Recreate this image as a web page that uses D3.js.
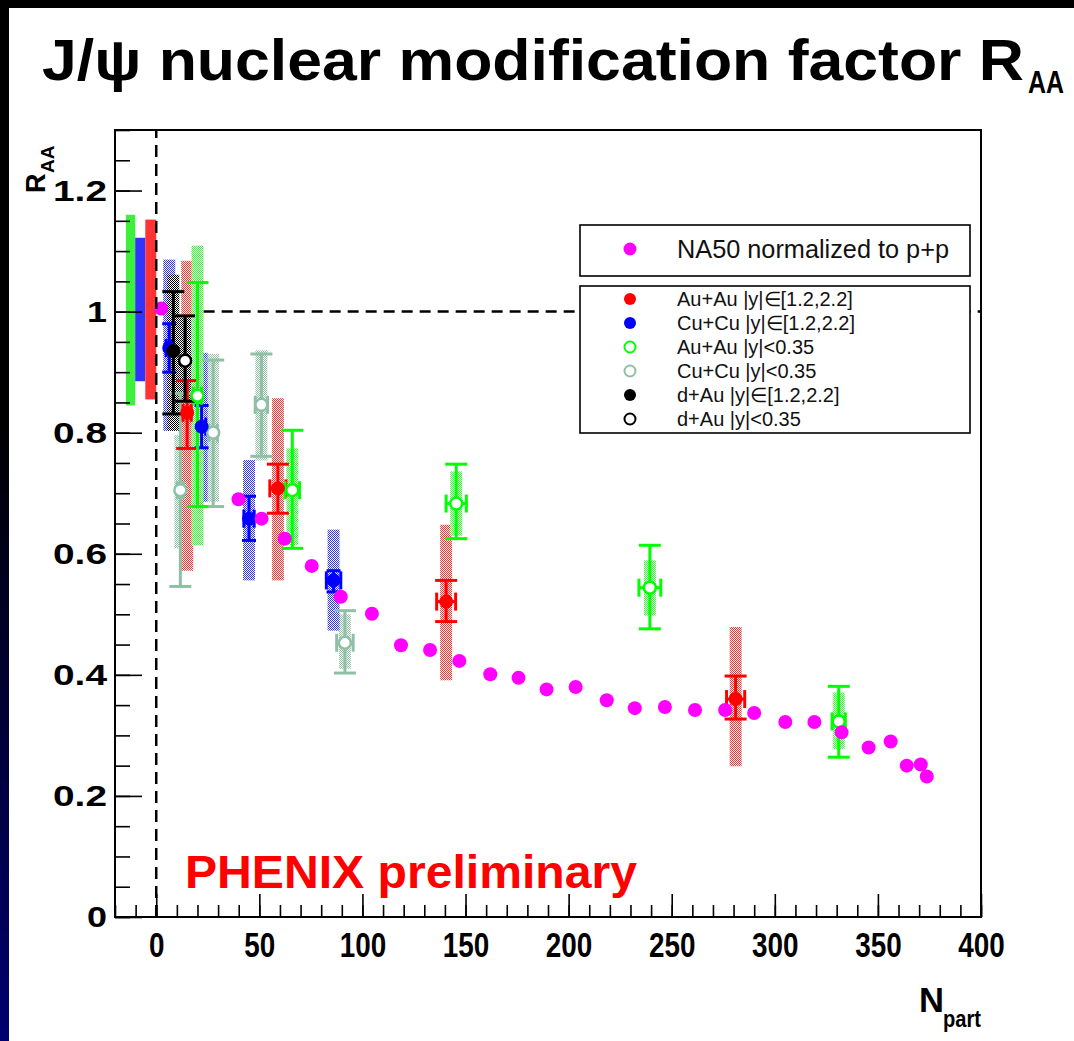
<!DOCTYPE html>
<html><head><meta charset="utf-8">
<script src="https://cdn.jsdelivr.net/npm/d3@7"></script>
<style>
html,body{margin:0;padding:0;background:#000;}
svg{display:block;}
text{font-family:"Liberation Sans",Arial,Helvetica,sans-serif;}
</style></head><body>
<svg id="c" width="1074" height="1041"></svg>
<script>
// ---------------- data ----------------
const xTickValues = [0, 50, 100, 150, 200, 250, 300, 350, 400];
const xTickLabels = ["0", "50", "100", "150", "200", "250", "300", "350", "400"];
const yTickValues = [0, 0.2, 0.4, 0.6, 0.8, 1.0, 1.2];
const yTickLabels = ["0", "0.2", "0.4", "0.6", "0.8", "1", "1.2"];

// NA50 normalized to p+p
const na50Npart = [2.4, 39.9, 51.1, 62.3, 75.4, 89.5, 104.6, 118.7, 132.8, 147.0, 162.0, 175.7, 189.3, 203.4,
  218.5, 232.1, 246.7, 261.3, 275.9, 290.0, 305.1, 319.2, 332.4, 345.5, 356.2, 364.0, 370.8, 373.7];
const na50Raa = [1.005, 0.690, 0.658, 0.625, 0.580, 0.529, 0.501, 0.449, 0.441, 0.423, 0.401, 0.395, 0.376, 0.380,
  0.358, 0.345, 0.347, 0.342, 0.342, 0.337, 0.322, 0.322, 0.305, 0.280, 0.290, 0.250, 0.252, 0.232];

// Au+Au |y| in [1.2,2.2]
const auauFwdNpart = [15, 59, 140.6, 281];
const auauFwdRaa = [0.833, 0.708, 0.521, 0.360];
const auauFwdStatLo = [0.774, 0.667, 0.488, 0.327];
const auauFwdStatHi = [0.886, 0.748, 0.556, 0.398];
const auauFwdSysLo = [0.572, 0.556, 0.391, 0.249];
const auauFwdSysHi = [1.084, 0.857, 0.648, 0.479];
const auauFwdXErr = [2, 3.9, 4.6, 4.4];

// Cu+Cu |y| in [1.2,2.2]
const cucuFwdNpart = [6.3, 22, 45, 86];
const cucuFwdRaa = [0.94, 0.81, 0.658, 0.556];
const cucuFwdStatLo = [0.90, 0.775, 0.622, 0.537];
const cucuFwdStatHi = [0.98, 0.845, 0.695, 0.572];
const cucuFwdSysLo = [0.803, 0.686, 0.556, 0.473];
const cucuFwdSysHi = [1.086, 0.932, 0.755, 0.640];
const cucuFwdXErr = [1.5, 2, 2.5, 3.5];

// Au+Au |y|<0.35
const auauMidNpart = [20, 66, 145.5, 239.4, 331];
const auauMidRaa = [0.861, 0.705, 0.683, 0.544, 0.323];
const auauMidStatLo = [0.678, 0.609, 0.625, 0.476, 0.264];
const auauMidStatHi = [1.048, 0.804, 0.748, 0.614, 0.381];
const auauMidSysLo = [0.614, 0.614, 0.630, 0.498, 0.277];
const auauMidSysHi = [1.109, 0.774, 0.736, 0.589, 0.371];
const auauMidXErr = [2, 3.5, 4.9, 5.3, 3.2];

// Cu+Cu |y|<0.35
const cucuMidNpart = [11.7, 27.6, 51, 91.5];
const cucuMidRaa = [0.705, 0.800, 0.846, 0.453];
const cucuMidStatLo = [0.546, 0.678, 0.761, 0.403];
const cucuMidStatHi = [0.865, 0.920, 0.930, 0.506];
const cucuMidSysLo = [0.609, 0.686, 0.754, 0.410];
const cucuMidSysHi = [0.796, 0.930, 0.936, 0.500];
const cucuMidXErr = [1.5, 2, 3, 4];

// d+Au
const dauFwdNpart = [8.3];
const dauFwdRaa = [0.935];
const dauFwdStatLo = [0.831];
const dauFwdStatHi = [1.033];
const dauFwdSysLo = [0.803];
const dauFwdSysHi = [1.061];
const dauFwdXErr = [0];

const dauMidNpart = [14];
const dauMidRaa = [0.919];
const dauMidStatLo = [0.852];
const dauMidStatHi = [0.993];
const dauMidSysLo = [0.850];
const dauMidSysHi = [0.990];
const dauMidXErr = [0];

// global systematic boxes at R=1
const globalNames = ["Au+Au |y|<0.35", "Cu+Cu |y|in[1.2,2.2]", "Au+Au |y|in[1.2,2.2]"];
const globalX0 = [-14.7, -10.2, -5.3];
const globalX1 = [-10.2, -5.3, 0];
const globalLo = [0.845, 0.885, 0.855];
const globalHi = [1.160, 1.122, 1.152];

const legendLabels = ["Au+Au |y|\u2208[1.2,2.2]", "Cu+Cu |y|\u2208[1.2,2.2]", "Au+Au |y|<0.35",
  "Cu+Cu |y|<0.35", "d+Au |y|\u2208[1.2,2.2]", "d+Au |y|<0.35"];

// ---------------- build ----------------
const svg = d3.select("#c");
const W = 1074, H = 1041;

const defs = svg.append("defs");
const grad = defs.append("linearGradient").attr("id", "bgl").attr("x1", 0).attr("y1", 0).attr("x2", 0).attr("y2", 1);
grad.append("stop").attr("offset", "0%").attr("stop-color", "#000");
grad.append("stop").attr("offset", "40%").attr("stop-color", "#000");
grad.append("stop").attr("offset", "100%").attr("stop-color", "#000070");

svg.append("rect").attr("width", W).attr("height", H).attr("fill", "#000");
svg.append("rect").attr("x", 0).attr("y", 0).attr("width", 9).attr("height", H).attr("fill", "url(#bgl)");
svg.append("rect").attr("x", 9).attr("y", 8).attr("width", W - 9).attr("height", H - 8).attr("fill", "#fff");

const x = d3.scaleLinear().domain([-20, 400]).range([115, 981]);
const y = d3.scaleLinear().domain([0, 1.3]).range([917, 130]);

const colors = {red: "#ff0000", blue: "#0000ff", green: "#00ff00", grey: "#8fc0a6", black: "#000000"};
const stipColors = {red: "#ff3030", blue: "#3030ff", green: "#30ff30", grey: "#8fc0a6", black: "#000000"};
Object.entries(stipColors).forEach(([k, c]) => {
  const p = defs.append("pattern").attr("id", "st-" + k).attr("patternUnits", "userSpaceOnUse")
    .attr("width", 2).attr("height", 2);
  p.append("rect").attr("x", 0).attr("y", 0).attr("width", 1).attr("height", 1).attr("fill", c);
  p.append("rect").attr("x", 1).attr("y", 1).attr("width", 1).attr("height", 1).attr("fill", c);
});

function mk(npart, raa, sl, sh, yl, yh, xe, color, open, cap) {
  return npart.map((n, i) => ({n, r: raa[i], sl: sl[i], sh: sh[i], yl: yl[i], yh: yh[i], xe: xe[i], color, open, cap}));
}
const series = [
  mk(cucuMidNpart, cucuMidRaa, cucuMidStatLo, cucuMidStatHi, cucuMidSysLo, cucuMidSysHi, cucuMidXErr, "grey", true, 11),
  mk(cucuFwdNpart, cucuFwdRaa, cucuFwdStatLo, cucuFwdStatHi, cucuFwdSysLo, cucuFwdSysHi, cucuFwdXErr, "blue", false, 7),
  mk(auauFwdNpart, auauFwdRaa, auauFwdStatLo, auauFwdStatHi, auauFwdSysLo, auauFwdSysHi, auauFwdXErr, "red", false, 11),
  mk(auauMidNpart, auauMidRaa, auauMidStatLo, auauMidStatHi, auauMidSysLo, auauMidSysHi, auauMidXErr, "green", true, 11),
  mk(dauFwdNpart, dauFwdRaa, dauFwdStatLo, dauFwdStatHi, dauFwdSysLo, dauFwdSysHi, dauFwdXErr, "black", false, 11),
  mk(dauMidNpart, dauMidRaa, dauMidStatLo, dauMidStatHi, dauMidSysLo, dauMidSysHi, dauMidXErr, "black", true, 10)
];

// frame background
svg.append("rect").attr("x", 115).attr("y", 130).attr("width", 866).attr("height", 787)
  .attr("fill", "#fff").attr("stroke", "none");

// systematic stipple bands
const gSys = svg.append("g");
series.forEach(s => s.forEach(d => {
  gSys.append("rect").attr("x", x(d.n) - 6).attr("width", 12)
    .attr("y", y(d.yh)).attr("height", y(d.yl) - y(d.yh))
    .attr("fill", "url(#st-" + d.color + ")");
}));

// global boxes
const gColors = ["#3cf03c", "#3333ff", "#ff3333"];
globalNames.forEach((nm, i) => {
  svg.append("rect").attr("x", x(globalX0[i])).attr("width", x(globalX1[i]) - x(globalX0[i]))
    .attr("y", y(globalHi[i])).attr("height", y(globalLo[i]) - y(globalHi[i]))
    .attr("fill", gColors[i]);
});

// stat error bars
const gStat = svg.append("g");
series.forEach(s => s.forEach(d => {
  const c = colors[d.color];
  const cx = x(d.n);
  const g = gStat.append("g").attr("stroke", c).attr("stroke-width", 3).attr("fill", "none");
  g.append("line").attr("x1", cx).attr("x2", cx).attr("y1", y(d.sh)).attr("y2", y(d.sl));
  g.append("line").attr("x1", cx - d.cap).attr("x2", cx + d.cap).attr("y1", y(d.sh)).attr("y2", y(d.sh));
  g.append("line").attr("x1", cx - d.cap).attr("x2", cx + d.cap).attr("y1", y(d.sl)).attr("y2", y(d.sl));
  if (d.xe > 0) {
    const xl = x(d.n - d.xe), xr = x(d.n + d.xe), cy = y(d.r);
    g.append("line").attr("x1", xl).attr("x2", xr).attr("y1", cy).attr("y2", cy);
    g.append("line").attr("x1", xl).attr("x2", xl).attr("y1", cy - 9).attr("y2", cy + 9);
    g.append("line").attr("x1", xr).attr("x2", xr).attr("y1", cy - 9).attr("y2", cy + 9);
  }
}));

// markers
const gMk = svg.append("g");
series.forEach(s => s.forEach(d => {
  const c = colors[d.color];
  gMk.append("circle").attr("cx", x(d.n)).attr("cy", y(d.r))
    .attr("r", d.open ? 6 : 7)
    .attr("fill", d.open ? "#fff" : c)
    .attr("stroke", c).attr("stroke-width", d.open ? 2.5 : 0);
}));

// NA50
svg.append("g").selectAll("circle").data(na50Npart.map((n, i) => [n, na50Raa[i]])).join("circle")
  .attr("cx", d => x(d[0])).attr("cy", d => y(d[1])).attr("r", 7).attr("fill", "#ff00ff");

// dashed reference lines
svg.append("line").attr("x1", x(0)).attr("x2", x(0)).attr("y1", y(0)).attr("y2", y(1.3))
  .attr("stroke", "#000").attr("stroke-width", 2.5).attr("stroke-dasharray", "12,7");
svg.append("line").attr("x1", x(23)).attr("x2", x(400)).attr("y1", y(1)).attr("y2", y(1))
  .attr("stroke", "#000").attr("stroke-width", 2.5).attr("stroke-dasharray", "11,7");

// axes
const fontAx = "Liberation Sans";
const yMinor = svg.append("g").attr("transform", "translate(115,0)")
  .call(d3.axisLeft(y).tickValues(d3.range(0, 1.301, 0.05)).tickSize(-15).tickFormat(""));
const yMajor = svg.append("g").attr("transform", "translate(115,0)")
  .call(d3.axisLeft(y).tickValues(yTickValues).tickSize(-27).tickPadding(8)
    .tickFormat((d, i) => yTickLabels[i]));
const xMinor = svg.append("g").attr("transform", "translate(0,917)")
  .call(d3.axisBottom(x).tickValues(d3.range(-20, 401, 10)).tickSize(-12).tickFormat(""));
const xMajor = svg.append("g").attr("transform", "translate(0,917)")
  .call(d3.axisBottom(x).tickValues(xTickValues).tickSize(-23).tickPadding(15)
    .tickFormat((d, i) => xTickLabels[i]));
[yMinor, yMajor, xMinor, xMajor].forEach(g => {
  g.select(".domain").remove();
  g.selectAll("line").attr("stroke", "#000").attr("stroke-width", 1.6);
});
yMajor.selectAll("text").attr("font-size", 30).attr("font-weight", "bold").attr("fill", "#000")
  .attr("font-family", fontAx)
  .attr("textLength", (d, i) => yTickLabels[i].length === 1 ? 20 : 54).attr("lengthAdjust", "spacingAndGlyphs");
xMajor.selectAll("text").attr("font-size", 35).attr("font-weight", "bold").attr("fill", "#000")
  .attr("font-family", fontAx)
  .attr("textLength", (d, i) => xTickLabels[i].length * 15.5).attr("lengthAdjust", "spacingAndGlyphs");

// frame border
svg.append("rect").attr("x", 115).attr("y", 130).attr("width", 866).attr("height", 787)
  .attr("fill", "none").attr("stroke", "#000").attr("stroke-width", 2);

// titles
svg.append("text").attr("x", 42).attr("y", 80).attr("font-size", 57).attr("font-weight", "bold")
  .attr("textLength", 982).attr("lengthAdjust", "spacingAndGlyphs")
  .text("J/\u03c8 nuclear modification factor R");
svg.append("text").attr("x", 1028).attr("y", 93).attr("font-size", 32).attr("font-weight", "bold")
  .attr("textLength", 36).attr("lengthAdjust", "spacingAndGlyphs").text("AA");

// y title
const yt = svg.append("g").attr("transform", "translate(45,193) rotate(-90)");
yt.append("text").attr("x", 0).attr("y", 0).attr("font-size", 27).attr("font-weight", "bold").text("R");
yt.append("text").attr("x", 20).attr("y", 9).attr("font-size", 19).attr("font-weight", "bold").text("AA");

// x title
svg.append("text").attr("x", 919).attr("y", 1012).attr("font-size", 35).attr("font-weight", "bold")
  .attr("textLength", 25).attr("lengthAdjust", "spacingAndGlyphs").text("N");
svg.append("text").attr("x", 943).attr("y", 1027).attr("font-size", 24).attr("font-weight", "bold")
  .attr("textLength", 38).attr("lengthAdjust", "spacingAndGlyphs").text("part");

// PHENIX preliminary
svg.append("text").attr("x", 185).attr("y", 888).attr("font-size", 47).attr("font-weight", "bold")
  .attr("fill", "#ff0000").attr("textLength", 452).attr("lengthAdjust", "spacingAndGlyphs")
  .text("PHENIX preliminary");

// legends
svg.append("rect").attr("x", 580).attr("y", 225).attr("width", 390).attr("height", 51)
  .attr("fill", "#fff").attr("stroke", "#000").attr("stroke-width", 1.6);
svg.append("circle").attr("cx", 630).attr("cy", 249).attr("r", 6.5).attr("fill", "#ff00ff");
svg.append("text").attr("x", 677).attr("y", 258).attr("font-size", 25).attr("fill", "#111")
  .attr("textLength", 272).attr("lengthAdjust", "spacingAndGlyphs")
  .text("NA50 normalized to p+p");

svg.append("rect").attr("x", 580).attr("y", 286).attr("width", 390).attr("height", 147)
  .attr("fill", "#fff").attr("stroke", "#000").attr("stroke-width", 1.6);
const legColors = ["red", "blue", "green", "grey", "black", "black"];
const legOpen = [false, false, true, true, false, true];
legendLabels.forEach((lab, i) => {
  const cy = 299 + i * 24;
  svg.append("circle").attr("cx", 630).attr("cy", cy).attr("r", legOpen[i] ? 5.5 : 6)
    .attr("fill", legOpen[i] ? "#fff" : colors[legColors[i]])
    .attr("stroke", colors[legColors[i]]).attr("stroke-width", legOpen[i] ? 2 : 0);
  svg.append("text").attr("x", 677).attr("y", cy + 7).attr("font-size", 20).attr("fill", "#111").text(lab);
});
</script>
</body></html>
